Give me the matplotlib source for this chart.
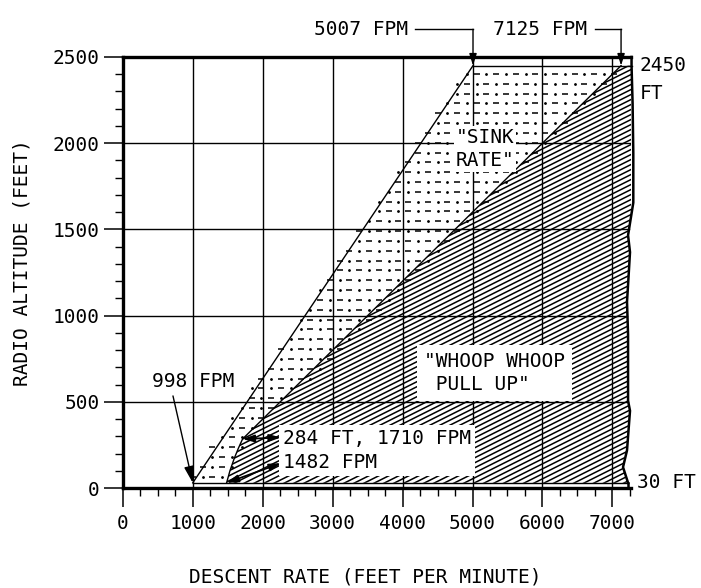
import numpy as np
import matplotlib
matplotlib.use("Agg")
import matplotlib.pyplot as plt
from matplotlib.patches import Polygon
from matplotlib.path import Path
from matplotlib.collections import LineCollection

plt.rcParams['font.family'] = ['DejaVu Sans Mono', 'Liberation Mono']

# ---------------- data ----------------
floor_alt = 30          # ft
ceiling_alt = 2450      # ft
sink_x = [998, 5007]            # sink-rate boundary (fpm)
sink_y = [30, 2450]             # ft
pull_x = [1482, 1530, 1590, 1650, 1710, 7125]   # pull-up boundary (fpm)
pull_y = [30, 100, 170, 230, 284, 2450]         # ft
edge_y = [30, 121, 218, 448, 506, 891, 1080, 1178, 1368, 1466, 1655, 1943, 2230, 2450, 2500]
edge_x = [7225, 7153, 7210, 7253, 7225, 7225, 7210, 7225, 7253, 7225, 7300, 7300, 7290, 7275, 7275]
x_ticks = [0, 1000, 2000, 3000, 4000, 5000, 6000, 7000]
y_ticks = [0, 500, 1000, 1500, 2000, 2500]

fig = plt.figure(figsize=(7.01, 5.88), dpi=100)
ax = fig.add_axes([123/701, 100/588, (630.5-123)/701, 431/588])
ax.set_xlim(0, 7260)
ax.set_ylim(0, 2500)

# ---------------- regions ----------------
edge_desc = list(zip(edge_x, edge_y))
# pull-up (hatched) region
pull_poly = list(zip(pull_x, pull_y))
pull_poly += [(np.interp(ceiling_alt, edge_y, edge_x), ceiling_alt)]
pull_poly += [(x, y) for x, y in reversed(edge_desc) if floor_alt < y < ceiling_alt]
pull_poly += [(np.interp(floor_alt, edge_y, edge_x), floor_alt)]
clip_patch = Polygon(pull_poly, closed=True, facecolor='none', edgecolor='none',
                     transform=ax.transData)
ax.add_patch(clip_patch)
clip_patch.set_clip_on(False)
# shallow diagonal hatch (about 27 degrees on screen)
slope = 0.203          # ft per fpm, screen slope ~0.5
spacing = 29           # ft between hatch lines (vertical)
segs = []
for c in np.arange(-1600, 2600, spacing):
    segs.append([(900, c + slope * 900), (7500, c + slope * 7500)])
lc = LineCollection(segs, colors='black', linewidths=1.1, zorder=1)
ax.add_collection(lc)
lc.set_clip_path(clip_patch)

# sink-rate (dotted) region
sink_poly = [(sink_x[0], sink_y[0]), (sink_x[1], sink_y[1])]
sink_poly += [(x, y) for x, y in reversed(list(zip(pull_x, pull_y)))]
path = Path(sink_poly + [sink_poly[0]], closed=True)
rows = np.arange(floor_alt + 35, ceiling_alt, 57)
dash_pts, dot_pts = [], []
for i, r in enumerate(rows):
    cols = np.arange(1000 + (i % 2) * 140, 7200, 140)
    for j, c in enumerate(cols):
        (dash_pts if (j + i // 2) % 2 == 0 else dot_pts).append((c, r))
dash_pts = np.array(dash_pts); dot_pts = np.array(dot_pts)
dash_pts = dash_pts[path.contains_points(dash_pts, radius=-70)]
dot_pts = dot_pts[path.contains_points(dot_pts, radius=-70)]
ax.plot(dash_pts[:, 0], dash_pts[:, 1], ls='none', marker='_', ms=4.5, mew=1.1, color='black', zorder=1)
ax.plot(dot_pts[:, 0], dot_pts[:, 1], ls='none', marker='.', ms=2.0, color='black', zorder=1)

# ---------------- grid ----------------
for xv in x_ticks[1:]:
    ax.plot([xv, xv], [0, 2500], color='black', lw=1.0, zorder=2)
for yv in y_ticks[1:-1]:
    ax.plot([0, np.interp(yv, edge_y, edge_x)], [yv, yv], color='black', lw=1.0, zorder=2)

# ---------------- boundary lines ----------------
lk = dict(color='black', lw=1.0, zorder=3, clip_on=False)
ax.plot(sink_x, sink_y, **lk)
ax.plot(pull_x, pull_y, **lk)
ax.plot([sink_x[1], np.interp(ceiling_alt, edge_y, edge_x)], [ceiling_alt, ceiling_alt], **lk)
ax.plot([sink_x[0], np.interp(floor_alt, edge_y, edge_x)], [floor_alt, floor_alt], **lk)
ax.plot(edge_x, edge_y, color='black', lw=1.8, zorder=3, clip_on=False)
ax.plot([7225, 7225], [0, floor_alt], color='black', lw=1.8, zorder=3, clip_on=False)

# ---------------- axes styling ----------------
ax.spines['right'].set_visible(False)
for s in ['left', 'top', 'bottom']:
    ax.spines[s].set_linewidth(2.4)
ax.set_xticks(x_ticks)
ax.set_yticks(y_ticks)
ax.set_xticks(np.arange(0, 7260, 250), minor=True)
ax.set_yticks(np.arange(0, 2501, 100), minor=True)
ax.tick_params(axis='both', which='major', direction='out', length=14, width=1.1,
               labelsize=14, colors='black')
ax.tick_params(axis='both', which='minor', direction='out', length=6, width=1.0)
ax.tick_params(axis='y', which='major', pad=3)
ax.tick_params(axis='x', which='major', pad=5)
ax.tick_params(top=False, right=False, which='both')

fig.text(365/701, 11/588, 'DESCENT RATE (FEET PER MINUTE)', ha='center', va='center', fontsize=14)
fig.text(22/701, 1 - 263/588, 'RADIO ALTITUDE (FEET)', ha='center', va='center',
         rotation=90, fontsize=14)

# ---------------- annotations ----------------
arrow = dict(arrowstyle='-|>,head_length=0.7,head_width=0.22', color='black', lw=1.0,
             shrinkA=0, shrinkB=0)
top_y = 2661
ax.text(3405, top_y, '5007 FPM', ha='center', va='center', fontsize=14, clip_on=False)
ax.plot([4177, sink_x[1]], [top_y, top_y], color='black', lw=1.0, clip_on=False)
ax.annotate('', xy=(sink_x[1], ceiling_alt), xytext=(sink_x[1], top_y),
            arrowprops=arrow, annotation_clip=False)
ax.text(5966, top_y, '7125 FPM', ha='center', va='center', fontsize=14, clip_on=False)
ax.plot([6753, pull_x[-1]], [top_y, top_y], color='black', lw=1.0, clip_on=False)
ax.annotate('', xy=(pull_x[-1], ceiling_alt), xytext=(pull_x[-1], top_y),
            arrowprops=arrow, annotation_clip=False)

ax.text(7390, 2450, '2450', ha='left', va='center', fontsize=14, clip_on=False)
ax.text(7390, 2290, 'FT', ha='left', va='center', fontsize=14, clip_on=False)
ax.text(7360, 30, '30 FT', ha='left', va='center', fontsize=14, clip_on=False)

ax.text(1000, 620, '998 FPM', ha='center', va='center', fontsize=14, zorder=5)
ax.annotate('', xy=(sink_x[0], floor_alt), xytext=(715, 534),
            arrowprops=dict(arrowstyle='-|>,head_length=1.0,head_width=0.3', color='black',
                            lw=1.0, shrinkA=0, shrinkB=0), zorder=5)

ax.text(2290, 218, '284 FT, 1710 FPM\n1482 FPM', ha='left', va='center', fontsize=14,
        linespacing=1.3, zorder=5,
        bbox=dict(facecolor='white', edgecolor='none', pad=3))
darrow = dict(arrowstyle='<|-|>,head_length=0.7,head_width=0.22', color='black', lw=1.3,
              shrinkA=0, shrinkB=0)
ax.annotate('', xy=(pull_x[4], pull_y[4]), xytext=(2260, 293), arrowprops=darrow, zorder=6)
ax.annotate('', xy=(pull_x[0], pull_y[0]), xytext=(2260, 144), arrowprops=darrow, zorder=6)

ax.text(5180, 1966, '"SINK\nRATE"', ha='center', va='center', fontsize=14,
        linespacing=1.3, zorder=5,
        bbox=dict(facecolor='white', edgecolor='none', pad=1))
ax.text(4300, 667, '"WHOOP WHOOP\n PULL UP"', ha='left', va='center', fontsize=14,
        linespacing=1.3, zorder=5,
        bbox=dict(facecolor='white', edgecolor='none', pad=5))

fig.savefig('out.png', dpi=100)
